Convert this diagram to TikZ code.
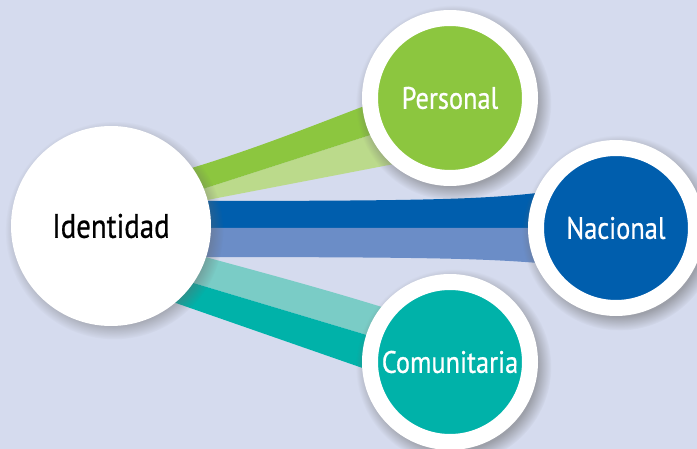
\documentclass[tikz,border=0pt]{standalone}
\usepackage{fontspec}
\setmainfont{PT Sans}[FakeStretch=0.85, FakeBold=0.6]
\usetikzlibrary{shadows}

\definecolor{backcol}{HTML}{D5DBEE}
\definecolor{grndark}{HTML}{8CC63F}
\definecolor{grnlight}{HTML}{BBDA8B}
\definecolor{bludark}{HTML}{005EAD}
\definecolor{blulight}{HTML}{6B8DC7}
\definecolor{tealdark}{HTML}{00B2A9}
\definecolor{teallight}{HTML}{7ACCC6}

\pgfdeclarelayer{bg}
\pgfsetlayers{bg,main}

\tikzset{
  hub/.style={circle, fill=white, minimum size=200pt, inner sep=0pt,
    font=\fontsize{34}{34}\selectfont,
    circular drop shadow={shadow xshift=3pt, shadow yshift=-4pt,
      shadow scale=1.09, opacity=.45, fill=black!60}},
  leaf/.style={circle, draw=white, line width=16pt, minimum size=160pt,
    inner sep=0pt, text=white, font=\fontsize{31}{31}\selectfont,
    circular drop shadow={shadow xshift=3pt, shadow yshift=-4pt,
      shadow scale=1.22, opacity=.5, fill=black!60}}
}

\begin{document}
\begin{tikzpicture}[x=1pt, y=-1pt]
        \useasboundingbox (0,0) rectangle (697,449);

        % circles
        \node[hub] (ident) at (111,226) {Identidad};
        \node[leaf, fill=grndark] (pers) at (450,98) {Personal};
        \node[leaf, fill=bludark] (nac) at (616,228) {Nacional};
        \node[leaf, fill=tealdark] (comu) at (450,362) {Comunitaria};

        \begin{pgfonlayer}{bg}
        \fill[backcol] (0,0) rectangle (697,449);

        % ribbons to Personal
        \fill[grnlight] ([shift={(39,-20)}]ident.center) -- ([shift={(-30,21)}]pers.center)
                -- ([shift={(-30,61)}]pers.center) -- ([shift={(39,-15)}]ident.center) -- cycle;
        \fill[grndark] ([shift={(39,-46)}]ident.center) .. controls (250,153) and (320,122) .. ([shift={(-30,-13)}]pers.center)
                -- ([shift={(-30,21)}]pers.center) -- ([shift={(39,-20)}]ident.center) -- cycle;

        % ribbons to Nacional
        \fill[bludark] ([shift={(39,-25)}]ident.center) .. controls (430,201) and (490,200) .. ([shift={(-56,-38)}]nac.center)
                -- ([shift={(-56,0)}]nac.center) -- ([shift={(39,2)}]ident.center) -- cycle;
        \fill[blulight] ([shift={(39,2)}]ident.center) -- ([shift={(-56,0)}]nac.center)
                -- ([shift={(-56,37)}]nac.center) .. controls (490,258) and (430,257) .. ([shift={(39,31)}]ident.center) -- cycle;

        % ribbons to Comunitaria
        \fill[teallight] ([shift={(39,16)}]ident.center) .. controls (260,272) and (330,290) .. ([shift={(-30,-43)}]comu.center)
                -- ([shift={(-30,-11)}]comu.center) -- ([shift={(39,44)}]ident.center) -- cycle;
        \fill[tealdark] ([shift={(39,44)}]ident.center) -- ([shift={(-30,-11)}]comu.center)
                -- ([shift={(-30,26)}]comu.center) -- ([shift={(39,68)}]ident.center) -- cycle;
        \end{pgfonlayer}

     \end{tikzpicture}
\end{document}
